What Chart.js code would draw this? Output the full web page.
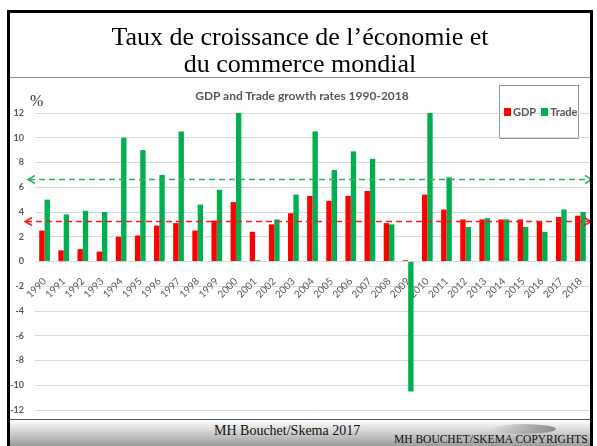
<!DOCTYPE html>
<html>
<head>
<meta charset="utf-8">
<script src="https://cdn.jsdelivr.net/npm/chart.js@4"></script>
<style>
html, body { margin: 0; padding: 0; background: #fff; }
body { width: 597px; height: 446px; position: relative; overflow: hidden; }
#growth { position: absolute; left: 0; top: 0; z-index: 1; }
.frame { position: absolute; left: 7px; top: 10px; width: 580px; height: 450px; border: 3px solid #000; z-index: 3; }
.slide-title { position: absolute; left: 10px; top: 23px; width: 580px; text-align: center; font: 26px/27px "Liberation Serif", serif; color: #000; z-index: 2; }
.sep { position: absolute; left: 10px; top: 77px; width: 580px; height: 1px; background: #8393aa; z-index: 2; }
.chart-title { position: absolute; left: 102px; top: 89px; width: 400px; text-align: center; font: bold 12px/14px Lato, sans-serif; color: #595959; z-index: 2; }
.pct { position: absolute; left: 30px; top: 93px; font: 16px/16px "Liberation Serif", serif; color: #333; z-index: 2; }
.legend { position: absolute; left: 499px; top: 85px; width: 78px; height: 52px; border: 1px solid #8b96a8; background: #fff; z-index: 0; }
.legend-items { position: absolute; left: 504px; top: 105px; height: 14px; display: flex; align-items: center; font: bold 11px/14px Lato, sans-serif; color: #595959; z-index: 2; white-space: nowrap; }
.legend-items span.sw { display: inline-block; width: 7px; height: 8px; margin-right: 2px; }
.legend-items span.lb { margin-right: 5px; }
.foot-line { position: absolute; left: 10px; top: 419px; width: 580px; height: 1px; background: #44546a; z-index: 2; }
.foot { position: absolute; left: 10px; top: 420px; width: 580px; height: 26px; background: linear-gradient(#ffffff, #9c9c9c); z-index: 2; }
.swoosh { position: absolute; left: 490px; top: 424px; width: 66px; height: 10px; border-radius: 50%; background: linear-gradient(to right, rgba(255,255,255,0), #8c8c8c); z-index: 2; }
.foot-text { position: absolute; left: 214px; top: 424px; font: 14px/14px "Liberation Serif", serif; color: #111; z-index: 2; white-space: nowrap; }
.foot-copy { position: absolute; left: 394px; top: 433px; font: 11.5px/12px "Liberation Serif", serif; color: #111; z-index: 2; white-space: nowrap; }
</style>
</head>
<body>
<div class="frame"></div>
<div class="slide-title">Taux de croissance de l’économie et<br>du commerce mondial</div>
<div class="sep"></div>
<div class="legend"></div>
<canvas id="growth" width="597" height="446"></canvas>
<div class="chart-title">GDP and Trade growth rates 1990-2018</div>
<div class="pct">%</div>
<div class="legend-items" id="legend"></div>
<div class="foot-line"></div>
<div class="foot"></div>
<div class="swoosh"></div>
<div class="foot-text">MH Bouchet/Skema 2017</div>
<div class="foot-copy">MH BOUCHET/SKEMA COPYRIGHTS</div>
<script>
// data
const years = ['1990', '1991', '1992', '1993', '1994', '1995', '1996', '1997', '1998', '1999',
    '2000', '2001', '2002', '2003', '2004', '2005', '2006', '2007', '2008', '2009',
    '2010', '2011', '2012', '2013', '2014', '2015', '2016', '2017', '2018'];
const gdpGrowth = [2.5, 0.9, 1.0, 0.8, 2.0, 2.1, 2.9, 3.1, 2.5, 3.3,
    4.8, 2.4, 3.0, 3.9, 5.3, 4.9, 5.3, 5.7, 3.1, 0.1,
    5.4, 4.2, 3.4, 3.4, 3.4, 3.4, 3.2, 3.6, 3.7];
const tradeGrowth = [5.0, 3.8, 4.1, 4.0, 10.0, 9.0, 7.0, 10.5, 4.6, 5.8,
    12.4, 0.1, 3.4, 5.4, 10.5, 7.4, 8.9, 8.3, 3.0, -10.5,
    12.7, 6.8, 2.8, 3.5, 3.4, 2.8, 2.4, 4.2, 4.0];
const seriesNames = ['GDP', 'Trade'];
const seriesColors = ['#ff0000', '#00b050'];
const averageLevels = [3.3, 6.7];          // dashed average lines (GDP, Trade)
const averageColors = ['#ff1a1a', '#2db35d'];
const yMin = -12, yMax = 12, yStep = 2;

// html legend built from the series
const legendEl = document.getElementById('legend');
seriesNames.forEach((name, i) => {
    legendEl.insertAdjacentHTML('beforeend',
        '<span class="sw" style="background:' + seriesColors[i] + '"></span><span class="lb">' + name + '</span>');
});

function arrowHead(ctx, x, y, dir) {
    ctx.beginPath();
    ctx.moveTo(x - dir * 7, y - 4);
    ctx.lineTo(x, y);
    ctx.lineTo(x - dir * 7, y + 4);
    ctx.stroke();
}

const averageLines = {
    id: 'averageLines',
    afterDatasetsDraw(chart) {
        const ctx = chart.ctx;
        const y = chart.scales.y;
        const ends = [[25, 591], [28, 592]];
        averageLevels.forEach((v, i) => {
            const py = Math.round(y.getPixelForValue(v)) + 0.5;
            ctx.save();
            ctx.strokeStyle = averageColors[i];
            ctx.lineWidth = 1.5;
            ctx.setLineDash([6, 4]);
            ctx.beginPath();
            ctx.moveTo(ends[i][0] + 1, py);
            ctx.lineTo(ends[i][1] - 1, py);
            ctx.stroke();
            ctx.setLineDash([]);
            arrowHead(ctx, ends[i][0], py, -1);
            arrowHead(ctx, ends[i][1], py, 1);
            ctx.restore();
        });
    }
};

new Chart(document.getElementById('growth'), {
    type: 'bar',
    data: {
        labels: years,
        datasets: [
            { label: seriesNames[0], data: gdpGrowth, backgroundColor: seriesColors[0], borderWidth: 0 },
            { label: seriesNames[1], data: tradeGrowth, backgroundColor: seriesColors[1], borderWidth: 0 }
        ]
    },
    options: {
        responsive: false,
        animation: false,
        devicePixelRatio: 1,
        layout: { padding: { top: 113, bottom: 36, left: 0, right: 7 } },
        datasets: { bar: { barPercentage: 1, categoryPercentage: 0.56 } },
        plugins: { legend: { display: false }, title: { display: false }, tooltip: { enabled: false } },
        scales: {
            x: {
                position: { y: 0 },
                grid: { display: false },
                border: { display: false },
                ticks: {
                    autoSkip: false, minRotation: 45, maxRotation: 45, padding: 6,
                    color: '#595959', font: { family: 'Lato', size: 10 }
                }
            },
            y: {
                min: yMin, max: yMax,
                afterFit: s => { s.width = 35; },
                grid: { color: '#d9d9d9', lineWidth: 1, drawTicks: false },
                border: { display: false },
                ticks: {
                    stepSize: yStep, padding: 11,
                    color: '#595959', font: { family: 'Lato', size: 9, weight: 'bold' }
                }
            }
        }
    },
    plugins: [averageLines]
});
</script>
</body>
</html>
